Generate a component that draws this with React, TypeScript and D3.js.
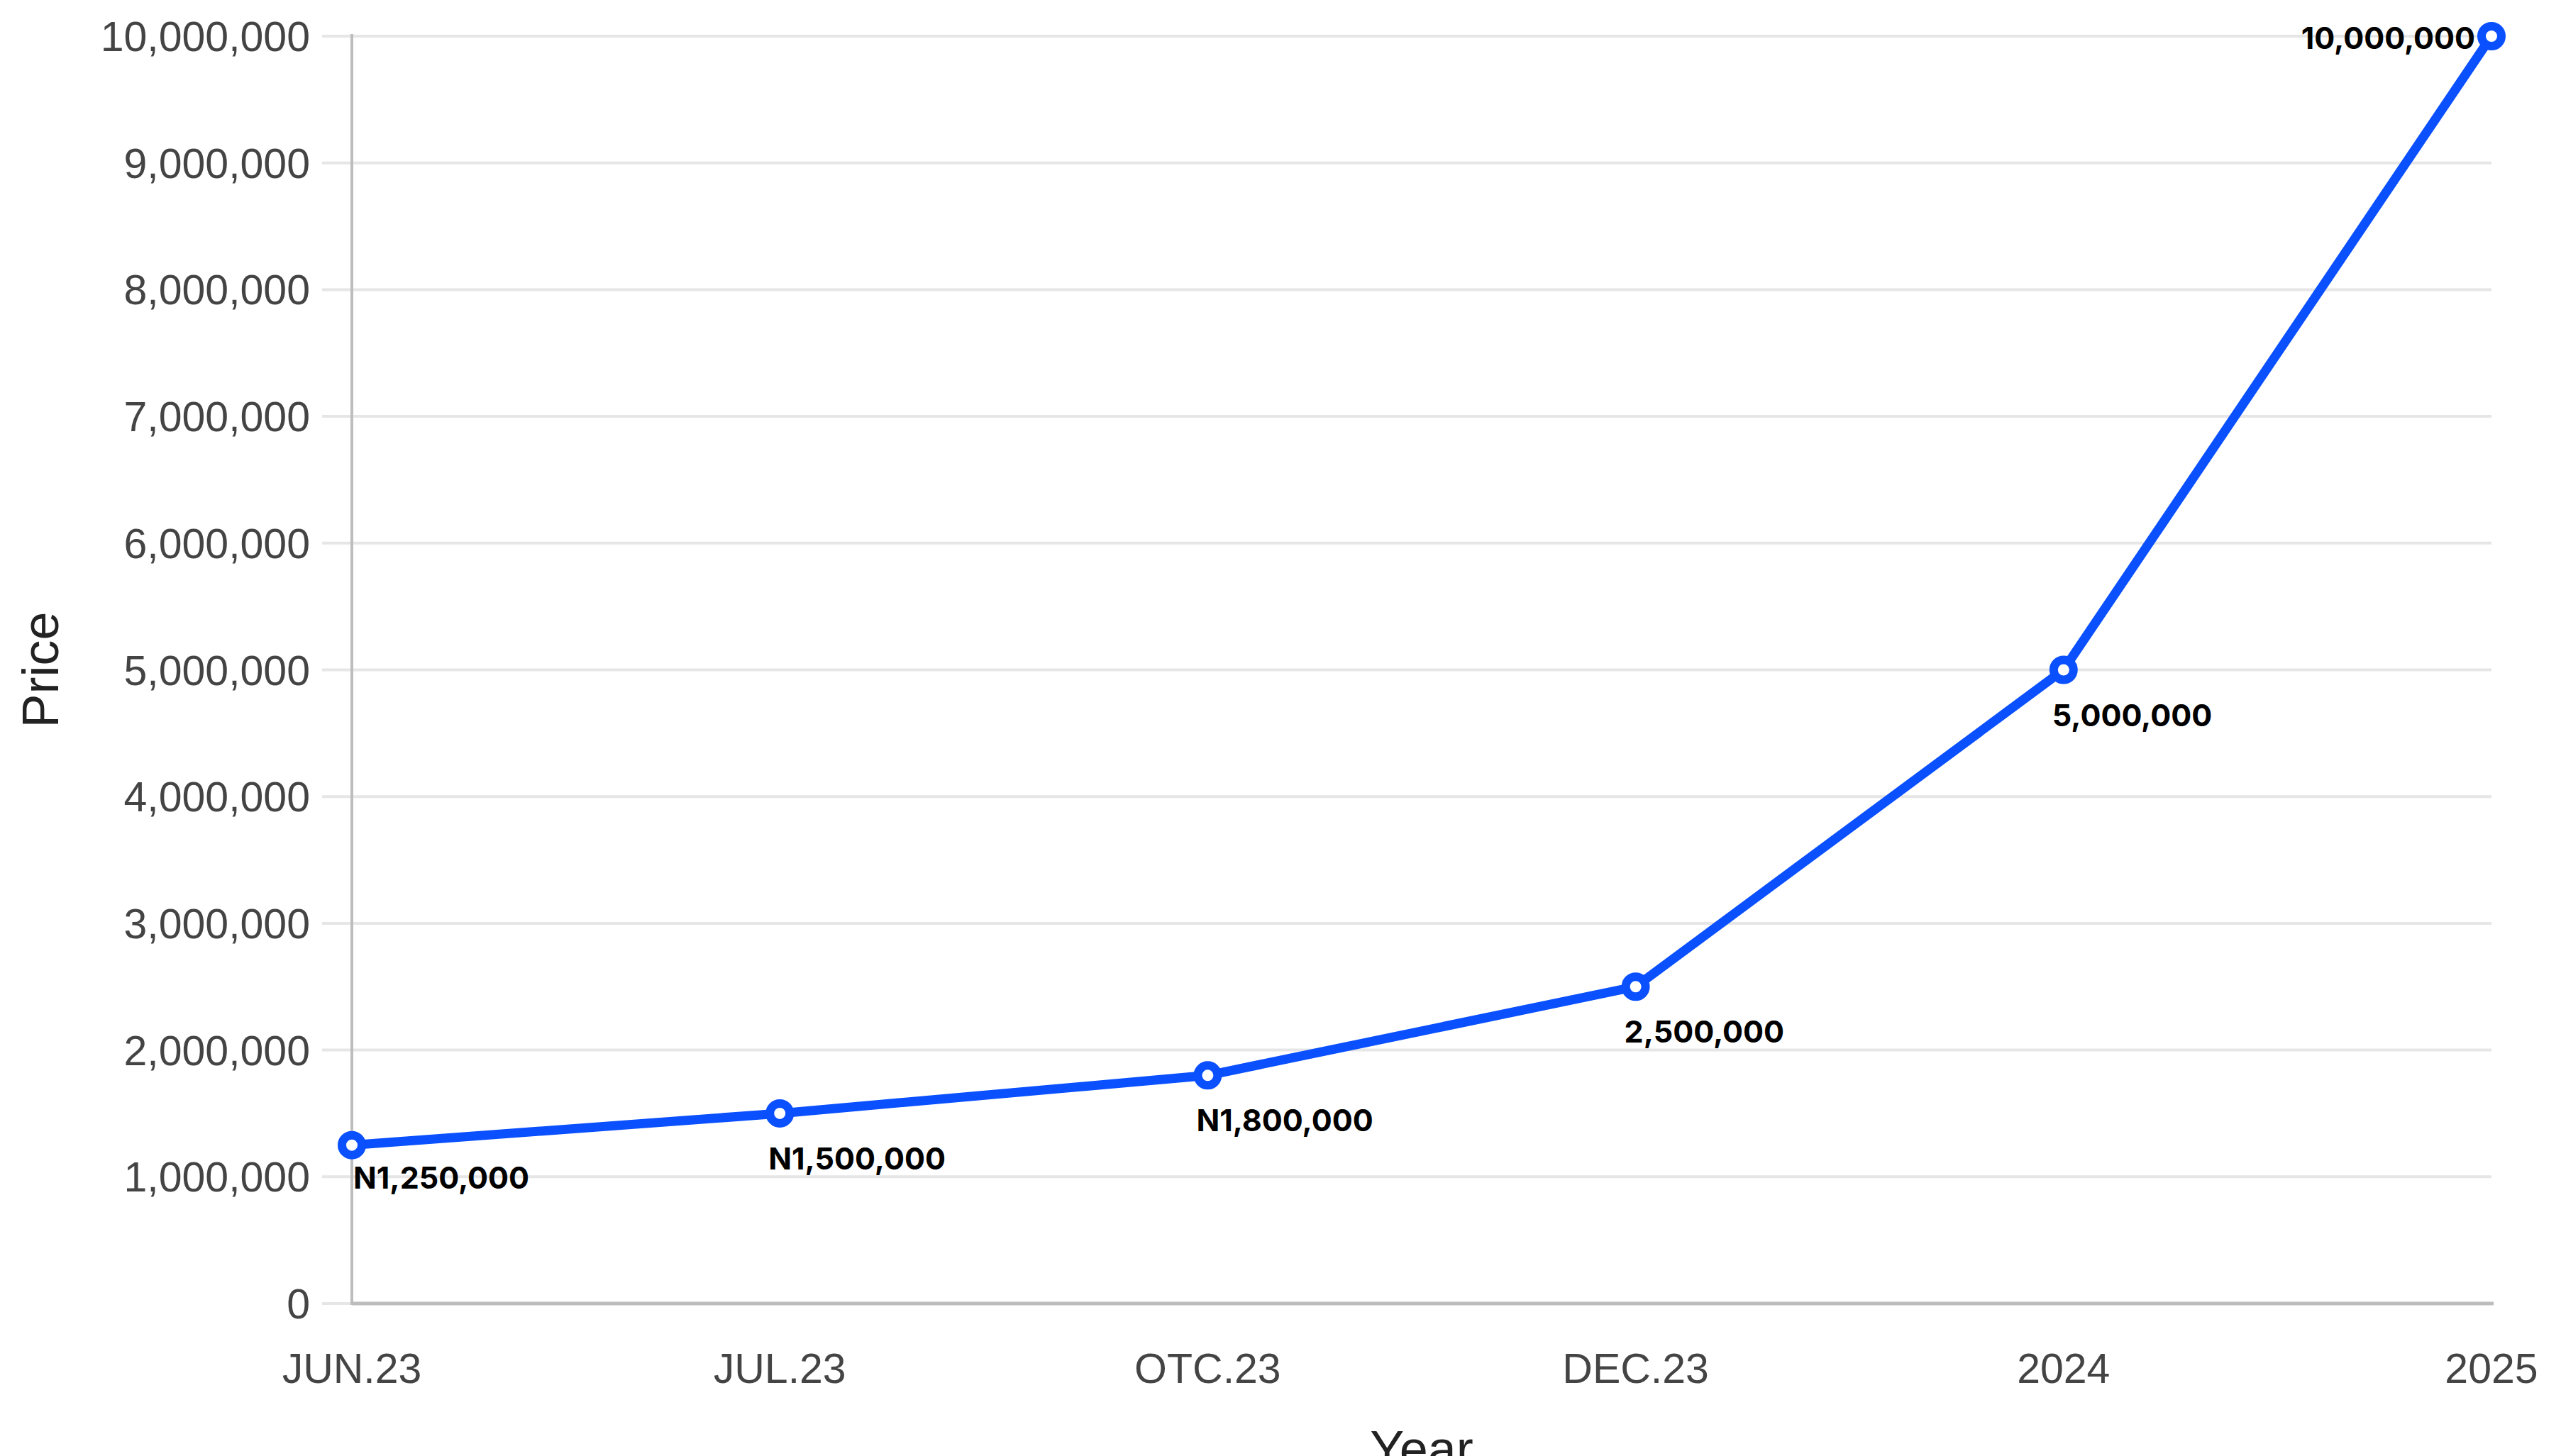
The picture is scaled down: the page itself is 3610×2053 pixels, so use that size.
import { useEffect, useRef } from 'react';
import * as d3 from 'd3';

const categories = ['JUN.23', 'JUL.23', 'OTC.23', 'DEC.23', '2024', '2025'];
const prices = [1250000, 1500000, 1800000, 2500000, 5000000, 10000000];
const pointLabels = ['N1,250,000', 'N1,500,000', 'N1,800,000', '2,500,000', '5,000,000', '10,000,000'];
const yTicks = [0, 1000000, 2000000, 3000000, 4000000, 5000000, 6000000, 7000000, 8000000, 9000000, 10000000];

const W = 3610;
const H = 2053;
const color = '#0a50ff';

export default function App() {
  const ref = useRef<SVGSVGElement | null>(null);
  useEffect(() => {
    const svg = d3.select(ref.current!);
    svg.selectAll('*').remove();
    const left = 496, right = 3512, top = 51, bottom = 1838;

    const x = d3.scalePoint<string>().domain(categories).range([left, right]);
    const y = d3.scaleLinear().domain([0, 10000000]).range([bottom, top]);
    const fmt = d3.format(',');
    const tickFont = '"Liberation Sans", Arial, sans-serif';

    // gridlines
    svg.append('g').selectAll('line').data(yTicks).enter().append('line')
      .attr('x1', left - 42).attr('x2', right).attr('y1', (d) => y(d)).attr('y2', (d) => y(d))
      .attr('stroke', '#e6e6e6').attr('stroke-width', 4);

    // axis lines
    svg.append('line').attr('x1', left).attr('x2', left).attr('y1', top - 3).attr('y2', bottom + 2)
      .attr('stroke', '#bdbdbd').attr('stroke-width', 4);
    svg.append('line').attr('x1', left).attr('x2', right + 3).attr('y1', bottom).attr('y2', bottom)
      .attr('stroke', '#bdbdbd').attr('stroke-width', 5);

    // y tick labels
    svg.append('g').selectAll('text').data(yTicks).enter().append('text')
      .attr('x', 437).attr('y', (d) => y(d) + 21).attr('text-anchor', 'end')
      .attr('font-family', tickFont).attr('font-size', 59).attr('fill', '#444')
      .text((d) => fmt(d));

    // x tick labels
    svg.append('g').selectAll('text').data(categories).enter().append('text')
      .attr('x', (d) => x(d) ?? 0).attr('y', 1950).attr('text-anchor', 'middle')
      .attr('font-family', tickFont).attr('font-size', 59).attr('fill', '#444')
      .text((d) => d);

    // axis titles
    svg.append('text').attr('transform', `translate(82,${(top + bottom) / 2}) rotate(-90)`)
      .attr('text-anchor', 'middle').attr('font-family', tickFont).attr('font-size', 72).attr('fill', '#222')
      .text('Price');
    svg.append('text').attr('x', (left + right) / 2).attr('y', 2068)
      .attr('text-anchor', 'middle').attr('font-family', tickFont).attr('font-size', 72).attr('fill', '#222')
      .text('Year');

    const pts = categories.map((c, i) => ({ key: c, value: prices[i], label: pointLabels[i] }));
    const line = d3.line<typeof pts[number]>().x((d) => x(d.key) ?? 0).y((d) => y(d.value));
    svg.append('path').datum(pts).attr('fill', 'none').attr('stroke', color).attr('stroke-width', 13)
      .attr('stroke-linejoin', 'round').attr('d', line as any);

    svg.append('g').selectAll('circle').data(pts).enter().append('circle')
      .attr('cx', (d) => x(d.key) ?? 0).attr('cy', (d) => y(d.value)).attr('r', 14)
      .attr('fill', 'white').attr('stroke', color).attr('stroke-width', 12);

    // point labels
    svg.append('g').selectAll('text').data(pts).enter().append('text')
      .attr('x', (d, i) => {
        const px = x(d.key) ?? 0;
        if (i === pts.length - 1) return px - 23;
        return Math.max(left + 2, px - 16);
      })
      .attr('y', (d, i) => {
        const py = y(d.value);
        if (i === pts.length - 1) return py + 18;
        if (i === 0) return py + 61;
        return py + 79;
      })
      .attr('text-anchor', (_, i) => (i === pts.length - 1 ? 'end' : 'start'))
      .attr('font-family', 'Inter, "Open Sans", sans-serif').attr('font-weight', 700).attr('font-size', 43)
      .attr('fill', '#000')
      .text((d) => d.label);
  }, []);
  return (
    <>
      <style>{'body{margin:0;overflow:hidden}'}</style>
      <svg ref={ref} width={W} height={H} viewBox={`0 0 ${W} ${H}`} style={{ display: 'block', background: '#fff' }} />
    </>
  );
}
